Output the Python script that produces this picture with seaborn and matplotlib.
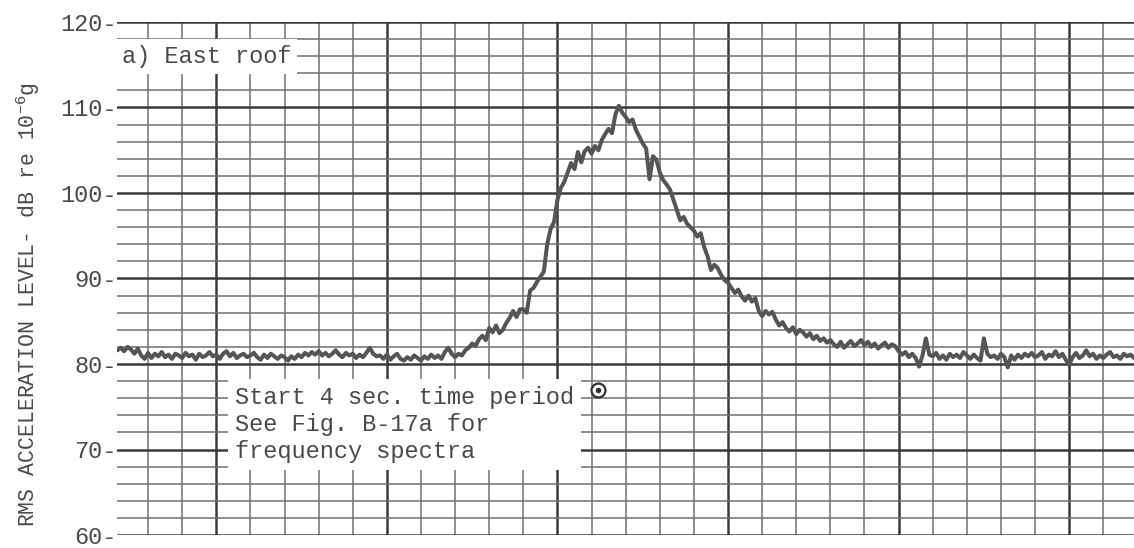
import numpy as np
import pandas as pd
import matplotlib
matplotlib.use("Agg")
import matplotlib.pyplot as plt
from matplotlib.ticker import MultipleLocator, FixedLocator, FuncFormatter
import seaborn as sns

# ---- data (read from the strip-chart recording) ----
t_start = -0.9      # chart-grid units (one vertical division = 1)
t_step = 0.1
level_db = [
    # -0.9 .. -0.1
    81.6, 81.9, 81.5, 82.0, 81.7, 81.2, 81.8, 81.0, 80.6,
    # 0
    81.3, 80.7, 81.2, 80.9, 81.4, 80.8, 81.1, 80.6, 81.2, 81.0,
    # 1
    80.7, 81.3, 80.9, 81.1, 80.5, 81.2, 80.8, 81.0, 81.4, 80.9,
    # 2
    81.1, 80.6, 81.2, 81.5, 80.9, 81.3, 80.7, 81.0, 81.2, 80.8,
    # 3
    81.0, 81.3, 80.8, 80.5, 81.1, 80.7, 81.2, 80.9, 80.6, 81.0,
    # 4
    80.8, 80.4, 80.9, 80.6, 81.1, 80.8, 81.3, 81.0, 81.4, 81.1,
    # 5
    81.5, 81.0, 81.3, 80.9, 81.2, 81.6, 81.1, 80.8, 81.3, 81.0,
    # 6
    81.2, 80.7, 81.1, 80.8, 81.3, 81.9, 81.2, 80.9, 81.0, 80.6,
    # 7
    81.1, 80.5, 80.9, 81.2, 80.6, 80.4, 80.8, 80.5, 81.0, 80.7,
    # 8
    80.4, 80.9, 80.6, 81.1, 80.7, 81.0, 80.6, 81.4, 81.9, 81.2,
    # 9
    80.8, 81.2, 81.0, 81.6, 81.9, 82.4, 82.1, 82.9, 83.3, 82.8,
    # 10
    84.2, 83.7, 84.5, 83.6, 84.0, 84.8, 85.4, 86.2, 85.5, 86.4,
    # 11
    86.4, 86.0, 88.6, 88.9, 89.6, 90.2, 90.8, 94.0, 95.8, 96.6,
    # 12
    99.2, 100.6, 101.3, 102.4, 103.5, 102.8, 104.8, 103.6, 104.9, 105.3,
    # 13
    104.6, 105.5, 105.0, 106.2, 106.9, 107.5, 107.0, 109.2, 110.2, 109.4,
    # 14
    108.9, 108.3, 108.6, 107.4, 106.6, 105.8, 105.2, 101.6, 104.3, 103.9,
    # 15
    102.4, 101.5, 101.0, 100.4, 99.2, 98.0, 96.8, 97.2, 96.4, 96.0,
    # 16
    95.6, 94.9, 95.3, 93.7, 92.6, 91.0, 91.6, 91.2, 90.4, 89.8,
    # 17
    89.5, 88.9, 88.3, 88.7, 87.9, 87.4, 88.0, 87.3, 87.7, 86.2,
    # 18
    85.6, 86.2, 85.8, 86.1, 85.2, 84.5, 84.9, 84.2, 83.8, 84.3,
    # 19
    83.5, 84.0, 83.7, 83.2, 83.6, 82.9, 83.3, 82.7, 83.0, 82.5,
    # 20
    82.8, 82.3, 82.0, 82.6, 81.9, 82.3, 82.7, 82.1, 82.4, 82.8,
    # 21
    82.2, 82.6, 82.0, 82.4, 81.8, 82.2, 82.5, 81.9, 82.3, 82.1,
    # 22
    81.5, 81.1, 81.4, 80.8, 81.2, 80.7, 79.7, 81.0, 83.0, 81.1,
    # 23
    80.9, 81.3, 80.6, 81.0, 80.5, 81.2, 80.8, 81.1, 80.7, 81.4,
    # 24
    81.0, 80.6, 81.1, 80.7, 80.4, 83.0, 81.2, 80.8, 81.0, 80.6,
    # 25
    81.2, 80.8, 79.6, 81.0, 80.5, 81.1, 80.7, 81.2, 80.9, 81.3,
    # 26
    80.8, 81.0, 81.4, 80.6, 81.1, 80.9, 81.5, 80.8, 81.2, 80.5,
    # 27
    79.9, 80.8, 81.3, 80.7, 81.0, 81.6, 80.9, 81.2, 80.6, 81.0,
    # 28
    80.7, 81.1, 81.4, 80.8, 81.0, 80.6, 81.2, 80.9, 81.1, 80.7,
]
time_units = t_start + t_step * np.arange(len(level_db))

y_ticks = [60, 70, 80, 90, 100, 110, 120]
y_tick_labels = ["60-", "70-", "80-", "90-", "100-", "110-", "120-"]
marker_time = 13.2      # "Start 4 sec. time period" marker
marker_level = 76.95

panel_label = "a) East roof"
note_text = "Start 4 sec. time period\nSee Fig. B-17a for\nfrequency spectra"
ylabel_text = r"RMS ACCELERATION LEVEL- dB re 10$^{-6}$g"

df = pd.DataFrame({"t": time_units, "level": level_db})

# ---- style ----
sns.set_style("white")
mono = ["Liberation Mono", "DejaVu Sans Mono"]
plt.rcParams["font.family"] = mono
plt.rcParams["mathtext.fontset"] = "custom"
plt.rcParams["mathtext.rm"] = "Liberation Mono"
plt.rcParams["mathtext.it"] = "Liberation Mono"
plt.rcParams["mathtext.bf"] = "Liberation Mono"
plt.rcParams["mathtext.sf"] = "Liberation Mono"
plt.rcParams["mathtext.tt"] = "Liberation Mono"
ink = "#4a4a4a"

fig = plt.figure(figsize=(11.34, 5.48), dpi=100)
ax = fig.add_axes([117 / 1134, 13 / 548, 1017 / 1134, 513 / 548])

sns.lineplot(data=df, x="t", y="level", ax=ax, color="#555555",
             linewidth=2.9, zorder=5)

ax.set_xlim(-0.91, 28.9)
ax.set_ylim(60, 120)

# grid: 2 dB minor, 10 dB major; vertical divisions, every 5th darker
ax.yaxis.set_major_locator(FixedLocator(y_ticks))
ax.yaxis.set_minor_locator(MultipleLocator(2))
ax.xaxis.set_major_locator(FixedLocator([2, 7, 12, 17, 22, 27]))
ax.xaxis.set_minor_locator(MultipleLocator(1))
ax.grid(which="major", axis="both", color="#3a3a3a", linewidth=1.8, zorder=1)
ax.grid(which="minor", axis="both", color="#707070", linewidth=1.1, zorder=1)
ax.set_axisbelow(True)

ax.yaxis.set_major_formatter(FuncFormatter(lambda v, p: y_tick_labels[y_ticks.index(int(round(v)))]))
ax.tick_params(axis="y", which="both", length=0, pad=0, labelsize=17, labelcolor=ink)
ax.tick_params(axis="x", which="both", length=0, labelbottom=False)
for s in ax.spines.values():
    s.set_visible(False)

ax.set_xlabel("")
ax.set_ylabel(ylabel_text, fontsize=15.5, color=ink)
ax.yaxis.set_label_coords(-0.074, 0.45)

# annotations
ax.text(0.005, (116 - 60) / 60, panel_label, transform=ax.transAxes,
        fontsize=17, color=ink, va="center", ha="left", zorder=6,
        bbox=dict(boxstyle="square,pad=0.25", facecolor="white", edgecolor="none"))
ax.text(0.116, 0.216, note_text, transform=ax.transAxes, fontsize=17,
        color=ink, va="center", ha="left", linespacing=1.22, zorder=6,
        bbox=dict(boxstyle="square,pad=0.3", facecolor="white", edgecolor="none"))
ax.plot([marker_time], [marker_level], marker="o", ms=10, mfc="white",
        mec="#333333", mew=1.6, zorder=7, clip_on=False)
ax.plot([marker_time], [marker_level], marker="o", ms=3, color="#333333", zorder=8)

fig.savefig("out.png", dpi=100, facecolor="white")
